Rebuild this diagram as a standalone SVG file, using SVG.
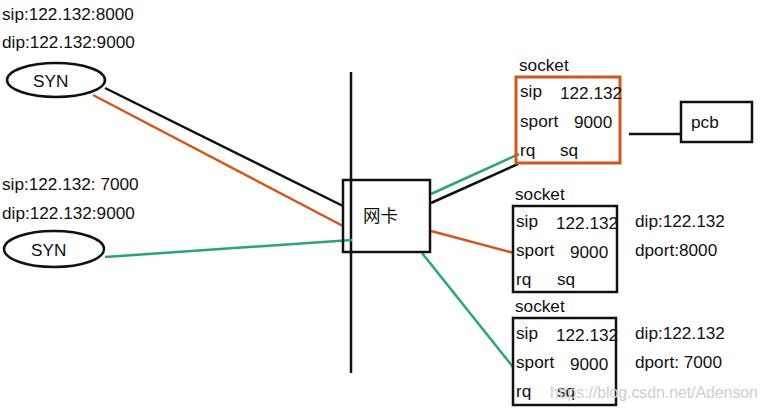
<svg xmlns="http://www.w3.org/2000/svg" width="767" height="412" viewBox="0 0 767 412">
<style>
text{font-family:"Liberation Sans","Noto Sans CJK SC",sans-serif;font-size:17.2px;fill:#111}
.box{fill:none;stroke:#111;stroke-width:2.5}
.ob{fill:none;stroke:#d4561a;stroke-width:3}
.k{stroke:#111;stroke-width:2.5;fill:none}
.o{stroke:#d4561a;stroke-width:2.5;fill:none}
.g{stroke:#2aa47e;stroke-width:2.5;fill:none}
.wm{fill:#cfcfcf;font-size:16px}
</style>
<rect width="767" height="412" fill="#fff"/>
<g id="labels-top">
<text x="2" y="20">sip:122.132:8000</text>
<text x="2" y="48">dip:122.132:9000</text>
</g>
<g id="labels-bottom">
<text x="2" y="190">sip:122.132: 7000</text>
<text x="2" y="219">dip:122.132:9000</text>
</g>
<g id="connectors">
<line class="k" x1="351" y1="72" x2="351" y2="373"/>
<line class="k" x1="105" y1="88" x2="343" y2="206"/>
<line class="o" x1="93" y1="95" x2="343" y2="226"/>
<line class="g" x1="105" y1="257" x2="352" y2="240"/>
<line class="g" x1="431" y1="194" x2="519" y2="154"/>
<line class="k" x1="431" y1="203" x2="518" y2="164"/>
<line class="o" x1="431" y1="231" x2="514" y2="253"/>
<line class="g" x1="422" y1="253" x2="513" y2="367"/>
<line class="k" x1="629" y1="134" x2="682" y2="134"/>
</g>
<g id="syn1">
<ellipse class="box" cx="56" cy="80" rx="49" ry="17"/>
<text x="33" y="87">SYN</text>
</g>
<g id="syn2">
<ellipse class="box" cx="54" cy="249" rx="50" ry="18"/>
<text x="31" y="256">SYN</text>
</g>
<g id="nic">
<rect class="box" x="343" y="180" width="87" height="72"/>
<text x="363" y="222" style="font-size:17.5px">网卡</text>
</g>
<g id="socket1">
<text x="519" y="71">socket</text>
<rect class="ob" x="516" y="77" width="104" height="86"/>
<text x="520" y="97">sip</text><text x="560" y="99">122.132</text>
<text x="520" y="127">sport</text><text x="574" y="128">9000</text>
<text x="520" y="156">rq</text><text x="560" y="156">sq</text>
</g>
<g id="pcb">
<rect class="box" x="681" y="102" width="71" height="40"/>
<text x="691" y="128">pcb</text>
</g>
<g id="socket2">
<text x="515" y="200">socket</text>
<rect class="box" x="513" y="206" width="104" height="86"/>
<text x="516" y="227">sip</text><text x="556" y="229">122.132</text>
<text x="516" y="256">sport</text><text x="570" y="258">9000</text>
<text x="516" y="285">rq</text><text x="557" y="285">sq</text>
<text x="635" y="227">dip:122.132</text>
<text x="635" y="256">dport:8000</text>
</g>
<g id="socket3">
<text x="515" y="312">socket</text>
<rect class="box" x="513" y="318" width="103" height="87"/>
<text x="516" y="339">sip</text><text x="556" y="341">122.132</text>
<text x="516" y="368">sport</text><text x="570" y="370">9000</text>
<text x="516" y="397">rq</text><text x="557" y="397">sq</text>
<text x="635" y="339">dip:122.132</text>
<text x="635" y="368">dport: 7000</text>
</g>
<text class="wm" x="550" y="398" textLength="208">https://blog.csdn.net/Adenson</text>
</svg>
